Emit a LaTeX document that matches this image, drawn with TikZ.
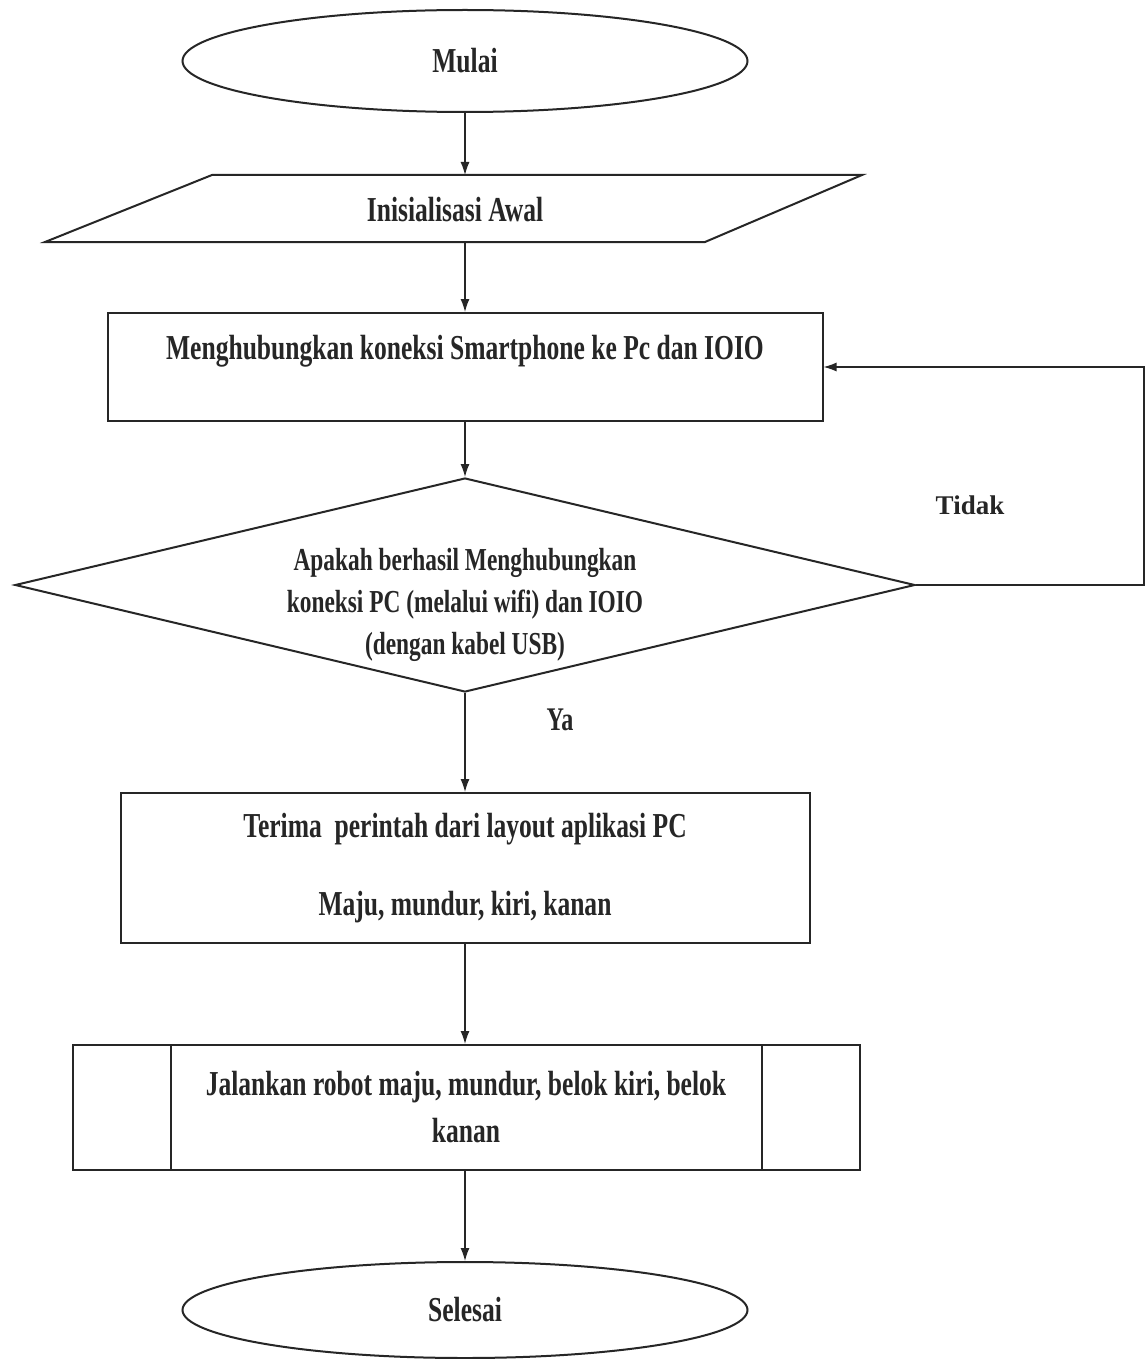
\documentclass[tikz,border=0pt]{standalone}
\usepackage{fontspec}
\setmainfont{Liberation Serif}[FakeStretch=0.73]
\newfontfamily\wideserif{Liberation Serif}
\usetikzlibrary{shapes.geometric,arrows.meta}
\definecolor{ink}{HTML}{262626}
\begin{document}
\begin{tikzpicture}[x=1pt,y=-1pt,
  outline/.style={draw=ink,line width=2pt},
  term/.style={outline,ellipse,inner sep=0pt,minimum width=565pt},
  boxnode/.style={outline,rectangle,inner sep=0pt},
  dia/.style={outline,diamond,inner sep=0pt},
  txt/.style={text=ink,font=\fontsize{35}{40}\selectfont\bfseries,align=center,inner sep=0pt},
  arr/.style={draw=ink,line width=1.3pt,-{Latex[length=13pt,width=9pt]}}]
\useasboundingbox (0,0) rectangle (1146,1359);
\fill[white] (0,0) rectangle (1146,1359);

% start
\node[term,minimum height=102pt] (start) at (465,61) {};
\node[txt] (starttxt) at (465,61) {Mulai};

% parallelogram
\coordinate (ptl) at (212,175);
\coordinate (ptr) at (862,175);
\coordinate (pbr) at (705,242);
\coordinate (pbl) at (45,242);
\draw[outline] (ptl) -- (ptr) -- (pbr) -- (pbl) -- cycle;
\node[txt] (init) at (455,210) {Inisialisasi Awal};
\coordinate (pin) at (465,175);
\coordinate (pout) at (465,242);

% connect box
\node[boxnode,minimum width=715pt,minimum height=108pt] (conn) at (465,367) {};
\node[txt] (conntxt) at (465,351) {Menghubungkan koneksi Smartphone ke Pc dan IOIO};

% decision
\node[dia,minimum width=900pt,minimum height=214pt] (dec) at (465,585) {};
\node[txt,font=\fontsize{32}{42}\selectfont\bfseries] (dectxt) at (465,605)
  {Apakah berhasil Menghubungkan\\koneksi PC (melalui wifi) dan IOIO\\(dengan kabel USB)};
\coordinate (fb) at (1144,585);

\node[text=ink,font=\wideserif\fontsize{27}{32}\selectfont\bfseries,inner sep=0pt] (tidak) at (970,505) {Tidak};
\node[txt,font=\fontsize{33}{36}\selectfont\bfseries] (ya) at (560,720) {Ya};

% terima box
\node[boxnode,minimum width=689pt,minimum height=150pt] (terima) at (465,868) {};
\node[txt,font=\fontsize{35}{78}\selectfont\bfseries] (terimatxt) at (465,868)
  {Terima\ \ perintah dari layout aplikasi PC\\Maju, mundur, kiri, kanan};

% predefined process
\node[boxnode,minimum width=787pt,minimum height=125pt] (run) at (466.5,1107.5) {};
\draw[outline] (171,1045) -- (171,1170);
\draw[outline] (762,1045) -- (762,1170);
\node[txt,font=\fontsize{35}{47}\selectfont\bfseries] (runtxt) at (466,1107)
  {Jalankan robot maju, mundur, belok kiri, belok\\kanan};

% end
\node[term,minimum height=96pt] (stop) at (465,1310) {};
\node[txt] (stoptxt) at (465,1310) {Selesai};

% connectors
\draw[arr] (start.south) -- (pin);
\draw[arr] (pout) -- (conn.north);
\draw[arr] (conn.south) -- (dec.north);
\draw[arr] (dec.south) -- (terima.north);
\draw[arr] (terima.south) -- (run.north -| terima.south);
\draw[arr] (run.south -| stop.north) -- (stop.north);
\draw[arr] (dec.east) -- (fb) |- (conn.east);
\end{tikzpicture}
\end{document}
